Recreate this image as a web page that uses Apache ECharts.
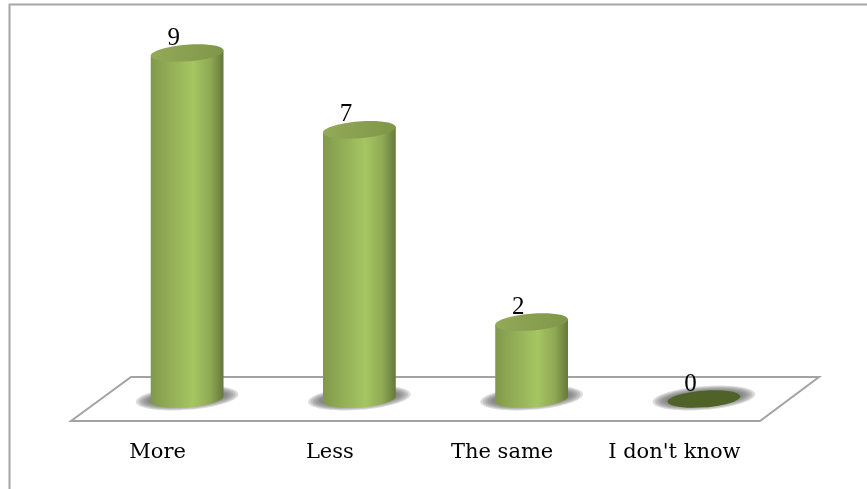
<!DOCTYPE html>
<html>
<head>
<meta charset="utf-8">
<style>
  html, body { margin: 0; padding: 0; background: #fff; }
  #chart { width: 867px; height: 489px; }
</style>
<script src="https://cdn.jsdelivr.net/npm/echarts@6/dist/echarts.min.js"></script>
</head>
<body>
<div id="chart"></div>
<script>
const categories = ["More", "Less", "The same", "I don't know"];
const responses = [9, 7, 2, 0];

const chart = echarts.init(document.getElementById("chart"), null, { renderer: "canvas" });

const RX = 36.5;
const RY = 8.4;
const TILT_DEG = 4.5;
const TILT = TILT_DEG * Math.PI / 180;
const DX = RX * Math.cos(TILT);
const DY = RX * Math.sin(TILT);
const SHADOW_RINGS = [[15, 3.5], [12.5, 2.5], [10, 1.5], [7.5, 0.5], [5, -0.5], [2.5, -1.5]];

const bodyGradient = new echarts.graphic.LinearGradient(0, 0, 1, 0, [
  { offset: 0, color: "#7f984a" },
  { offset: 0.15, color: "#8ba552" },
  { offset: 0.58, color: "#a5c661" },
  { offset: 0.82, color: "#8fa954" },
  { offset: 1, color: "#64783a" }
]);

const lidGradient = new echarts.graphic.LinearGradient(0, 0, 1, 1, [
  { offset: 0, color: "#93aa58" },
  { offset: 1, color: "#7f9549" }
]);

function tiltedEllipse(cx, cy, rx, ry, style) {
  return {
    type: "ellipse",
    shape: { cx, cy, rx, ry },
    rotation: TILT,
    originX: cx,
    originY: cy,
    style
  };
}

// Ground plane under the cylinders, placed relative to the category band.
function renderFloor(params, api) {
  const y0 = api.coord([0, 0])[1];
  const gs = params.coordSys;
  const left = gs.x;
  const right = gs.x + gs.width;
  return {
    type: "polygon",
    shape: {
      points: [
        [left - 30, y0 + 22],
        [left + 30, y0 - 22],
        [right + 29, y0 - 22],
        [right - 30, y0 + 22]
      ]
    },
    style: { fill: "#fff", stroke: "#a3a3a3", lineWidth: 2 },
    silent: true
  };
}

// One cylinder: soft contact shadow, curved body, then the lid and its count.
function renderCylinder(params, api) {
  const idx = api.value(0);
  const val = api.value(1);
  const bottom = api.coord([idx, 0]);
  const top = api.coord([idx, val]);
  const cx = bottom[0];
  // Stacked translucent rings fade the shadow out towards the floor.
  const children = SHADOW_RINGS.map(([dx, dy]) =>
    tiltedEllipse(cx, bottom[1] - 1, RX + dx, RY + dy, { fill: "rgba(110,110,110,0.24)" })
  );
  if (val > 0) {
    children.push({
      type: "path",
      shape: {
        pathData:
          "M" + (cx - DX) + " " + (top[1] + DY) +
          "L" + (cx - DX) + " " + (bottom[1] + DY) +
          "A" + RX + " " + RY + " " + (-TILT_DEG) + " 0 0 " + (cx + DX) + " " + (bottom[1] - DY) +
          "L" + (cx + DX) + " " + (top[1] - DY) + "Z"
      },
      style: { fill: bodyGradient }
    });
    children.push(tiltedEllipse(cx, top[1], RX, RY, { fill: lidGradient }));
  } else {
    children.push(tiltedEllipse(cx, bottom[1], RX, RY, { fill: "#4f6228" }));
  }
  children.push({
    type: "text",
    style: {
      text: String(val),
      x: cx - 13.5,
      y: top[1] - 15,
      textAlign: "center",
      textVerticalAlign: "middle",
      font: "25px 'Liberation Serif'",
      fill: "#000"
    },
    z2: 10
  });
  return { type: "group", children };
}

chart.setOption({
  animation: false,
  backgroundColor: "#fff",
  graphic: [
    {
      type: "line",
      shape: { x1: 9, y1: 4.5, x2: 867, y2: 4.5 },
      style: { stroke: "#a6a6a6", lineWidth: 2 },
      z: -10
    },
    {
      type: "line",
      shape: { x1: 9.5, y1: 4, x2: 9.5, y2: 489 },
      style: { stroke: "#a6a6a6", lineWidth: 2 },
      z: -10
    }
  ],
  grid: { left: 101, right: 77, top: 53, bottom: 90 },
  xAxis: {
    type: "category",
    data: categories,
    axisLine: { show: false },
    axisTick: { show: false },
    axisLabel: {
      color: "#000",
      fontFamily: "DejaVu Serif",
      fontSize: 21,
      margin: 43,
      padding: [0, 59, 0, 0],
      interval: 0
    }
  },
  yAxis: { type: "value", min: 0, max: 9, show: false },
  series: [
    {
      type: "custom",
      name: "floor",
      data: [[0, 0]],
      renderItem: renderFloor,
      z: 1
    },
    {
      type: "custom",
      name: "Responses",
      data: responses.map((v, i) => [i, v]),
      encode: { x: 0, y: 1 },
      renderItem: renderCylinder,
      z: 2
    }
  ]
});
</script>
</body>
</html>
